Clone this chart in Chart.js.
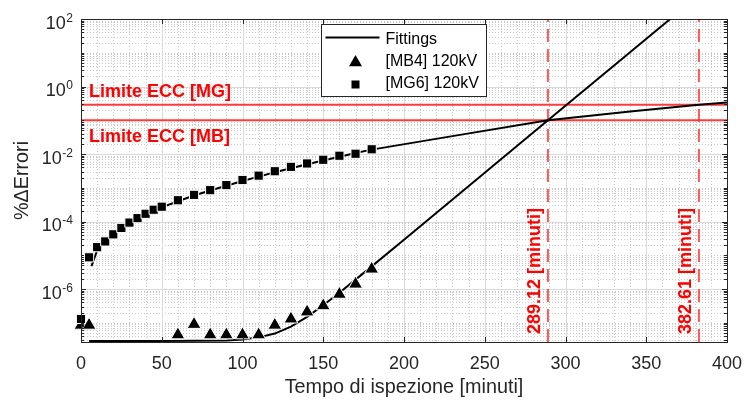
<!DOCTYPE html>
<html>
<head>
<meta charset="utf-8">
<script src="https://cdn.jsdelivr.net/npm/chart.js@4.4.1/dist/chart.umd.min.js"></script>
<style>
  html, body { margin: 0; padding: 0; background: #ffffff; }
  #wrap { width: 745px; height: 401px; }
</style>
</head>
<body>
<div id="wrap"><canvas id="c" width="745" height="401"></canvas></div>
<script>
// Measured error growth over inspection time (minutes), two samples at 120 kV
const timeMB4 = [0, 5, 60, 70, 80, 90, 100, 110, 120, 130, 140, 150, 160, 170, 180];
const errMB4  = [8.5e-8, 8.5e-8, 4.4e-8, 9.0e-8, 4.4e-8, 4.4e-8, 4.4e-8, 4.4e-8, 8.5e-8, 1.3e-7, 2.1e-7, 3.2e-7, 7.0e-7, 1.4e-6, 3.9e-6];

const timeMG6 = [0, 5, 10, 15, 20, 25, 30, 35, 40, 45, 50, 60, 70, 80, 90, 100, 110, 120, 130, 140, 150, 160, 170, 180];
const errMG6  = [1.3e-7, 8.7e-6, 1.74e-5, 2.57e-5, 4.17e-5, 6.46e-5, 9.3e-5, 1.26e-4, 1.70e-4, 2.24e-4, 2.75e-4, 4.27e-4, 6.17e-4, 8.5e-4, 1.20e-3, 1.70e-3, 2.29e-3, 3.09e-3, 4.17e-3, 5.25e-3, 6.76e-3, 8.9e-3, 1.02e-2, 1.38e-2];

// Fitted curves
const fitTimeMB4 = [5, 50, 90, 100, 110, 120, 130, 140, 150, 160, 170, 180, 200, 250, 289.12, 370];
const fitErrMB4  = [2.9e-8, 2.9e-8, 3.0e-8, 3.2e-8, 3.7e-8, 4.8e-8, 7.7e-8, 1.5e-7, 3.3e-7, 7.8e-7, 1.9e-6, 4.7e-6, 2.9e-5, 2.8e-3, 0.1, 160];

const fitTimeMG6 = [6.5, 10, 15, 20, 25, 30, 40, 50, 60, 70, 80, 90, 100, 110, 120, 130, 140, 150, 160, 170, 180, 230, 289.12, 340, 382.61, 400];
const fitErrMG6  = [4.8e-6, 1.41e-5, 2.82e-5, 4.37e-5, 6.46e-5, 8.9e-5, 1.62e-4, 2.63e-4, 3.98e-4, 5.89e-4, 8.3e-4, 1.15e-3, 1.58e-3, 2.14e-3, 2.88e-3, 3.8e-3, 5.0e-3, 6.46e-3, 8.3e-3, 1.07e-2, 1.35e-2, 3.39e-2, 0.1, 0.182, 0.288, 0.335];

// ECC limits and the times at which the fits reach them
const limitNames  = ['Limite ECC [MG]', 'Limite ECC [MB]'];
const limitValues = [0.29, 0.1];
const crossTimes  = [289.12, 382.61];

// Axis ranges and labelled ticks
const xRange = [0, 400];
const xStep = 50;
const yRange = [2.7e-8, 100];
const yLabelExps = [2, 0, -2, -4, -6];

const FONT = '"Liberation Sans", Arial, Helvetica, sans-serif';
const AXIS_COLOR = '#262626';
const LIMIT_RED = '#ff3c3c';
const TEXT_RED = '#ff0000';

const pts = (xs, ys) => xs.map((v, i) => ({ x: v, y: ys[i] }));

const datasets = [
  { label: '[MG6] 120kV', data: pts(timeMG6, errMG6), showLine: false,
    pointStyle: 'rect', pointRadius: 6.5, pointHoverRadius: 6.5,
    backgroundColor: '#000', borderColor: '#fff', borderWidth: 1, order: 0, clip: false },
  { label: '[MB4] 120kV', data: pts(timeMB4, errMB4), showLine: false,
    pointStyle: 'triangle', pointRadius: 8, pointHoverRadius: 8,
    backgroundColor: '#000', borderColor: '#fff', borderWidth: 1, order: 1, clip: false },
  { label: 'Fittings', data: pts(fitTimeMB4, fitErrMB4), showLine: true, pointRadius: 0,
    borderColor: '#000', borderWidth: 2, tension: 0, order: 2, clip: 0 },
  { label: 'Fittings MG6', data: pts(fitTimeMG6, fitErrMG6), showLine: true, pointRadius: 0,
    borderColor: '#000', borderWidth: 2, tension: 0, order: 3, clip: 0 }
];

limitValues.forEach((v, i) => {
  datasets.push({ label: limitNames[i], data: pts(xRange, [v, v]), showLine: true, pointRadius: 0,
    borderColor: LIMIT_RED, borderWidth: 2, order: 4, clip: 0 });
});
crossTimes.forEach((t) => {
  datasets.push({ label: t.toFixed(2), data: pts([t, t], yRange), showLine: true, pointRadius: 0,
    borderColor: 'rgba(255,70,70,0.9)', borderWidth: 2, borderDash: [13, 7], order: 5, clip: 0 });
});

// Grid, frame, tick labels, annotations and legend
const decor = {
  id: 'decor',
  beforeDatasetsDraw(chart) {
    const { ctx, chartArea: a, scales: { x, y } } = chart;
    ctx.save();
    ctx.lineWidth = 1;
    // minor grid (dotted)
    ctx.strokeStyle = '#c8c8c8';
    ctx.setLineDash([1, 2]);
    ctx.beginPath();
    for (let v = xRange[0] + 10; v < xRange[1]; v += 10) {
      if (v % xStep === 0) continue;
      const px = Math.round(x.getPixelForValue(v)) + 0.5;
      ctx.moveTo(px, a.top); ctx.lineTo(px, a.bottom);
    }
    for (let e = -8; e <= 2; e++) {
      for (let m = 1; m <= 9; m++) {
        const v = m * Math.pow(10, e);
        if (v <= yRange[0] || v >= yRange[1]) continue;
        if (m === 1 && e % 2 === 0) continue;
        const py = Math.round(y.getPixelForValue(v)) + 0.5;
        ctx.moveTo(a.left, py); ctx.lineTo(a.right, py);
      }
    }
    ctx.stroke();
    // major grid
    ctx.setLineDash([]);
    ctx.strokeStyle = '#dadada';
    ctx.beginPath();
    for (let v = xRange[0] + xStep; v < xRange[1]; v += xStep) {
      const px = Math.round(x.getPixelForValue(v)) + 0.5;
      ctx.moveTo(px, a.top); ctx.lineTo(px, a.bottom);
    }
    yLabelExps.forEach((e) => {
      const py = Math.round(y.getPixelForValue(Math.pow(10, e))) + 0.5;
      if (py > a.top + 1 && py < a.bottom - 1) { ctx.moveTo(a.left, py); ctx.lineTo(a.right, py); }
    });
    ctx.stroke();
    ctx.restore();
  },
  afterDatasetsDraw(chart) {
    const { ctx, chartArea: a, scales: { x, y } } = chart;
    ctx.save();
    // annotations for the limit lines
    ctx.fillStyle = TEXT_RED;
    ctx.font = 'bold 18px ' + FONT;
    ctx.textAlign = 'left';
    ctx.textBaseline = 'middle';
    const tx = x.getPixelForValue(5);
    ctx.fillText(limitNames[0], tx, y.getPixelForValue(limitValues[0]) - 13);
    ctx.fillText(limitNames[1], tx, y.getPixelForValue(limitValues[1]) + 17);
    // crossing time labels, written upwards beside the dashed lines
    crossTimes.forEach((t) => {
      ctx.save();
      ctx.translate(x.getPixelForValue(t) - 13, a.bottom - 71);
      ctx.rotate(-Math.PI / 2);
      ctx.textAlign = 'center';
      ctx.textBaseline = 'middle';
      ctx.fillText(t.toFixed(2) + ' [minuti]', 0, 0);
      ctx.restore();
    });
    // frame
    ctx.strokeStyle = AXIS_COLOR;
    ctx.lineWidth = 1;
    ctx.strokeRect(Math.round(a.left) + 0.5, Math.round(a.top) + 0.5,
                   Math.round(a.right - a.left), Math.round(a.bottom - a.top));
    // ticks, pointing inwards
    ctx.beginPath();
    for (let v = xRange[0]; v <= xRange[1]; v += xStep) {
      const px = Math.round(x.getPixelForValue(v)) + 0.5;
      ctx.moveTo(px, a.bottom); ctx.lineTo(px, a.bottom - 5);
      ctx.moveTo(px, a.top); ctx.lineTo(px, a.top + 5);
    }
    for (let e = -8; e <= 2; e++) {
      for (let m = 1; m <= 9; m++) {
        const v = m * Math.pow(10, e);
        if (v < yRange[0] || v > yRange[1]) continue;
        const len = (m === 1 && e % 2 === 0) ? 5 : 3;
        const py = Math.round(y.getPixelForValue(v)) + 0.5;
        ctx.moveTo(a.left, py); ctx.lineTo(a.left + len, py);
        ctx.moveTo(a.right, py); ctx.lineTo(a.right - len, py);
      }
    }
    ctx.stroke();
    ctx.restore();
  },
  afterDraw(chart) {
    const { ctx, chartArea: a, scales: { y } } = chart;
    ctx.save();
    // y tick labels with superscript exponents
    ctx.fillStyle = AXIS_COLOR;
    ctx.textBaseline = 'alphabetic';
    ctx.textAlign = 'right';
    const rightEdge = a.left - 8;
    yLabelExps.forEach((e) => {
      const py = y.getPixelForValue(Math.pow(10, e));
      const expTxt = e < 0 ? '-' + Math.abs(e) : String(e);
      ctx.font = '12px ' + FONT;
      const ew = ctx.measureText(expTxt).width;
      ctx.fillText(expTxt, rightEdge, py + 2.5);
      ctx.font = '18px ' + FONT;
      ctx.fillText('10', rightEdge - ew - 0.5, py + 9.5);
    });
    // legend
    const lx = 321.5, ly = 24.5, lw = 165, lh = 72;
    ctx.fillStyle = '#ffffff';
    ctx.fillRect(lx, ly, lw, lh);
    ctx.strokeStyle = AXIS_COLOR;
    ctx.lineWidth = 1;
    ctx.strokeRect(lx, ly, lw, lh);
    ctx.strokeStyle = '#000';
    ctx.lineWidth = 2;
    ctx.beginPath();
    ctx.moveTo(lx + 4, ly + 13); ctx.lineTo(lx + 58, ly + 13);
    ctx.stroke();
    ctx.fillStyle = '#000';
    // triangle marker
    const trx = lx + 34, tr_y = ly + 38, r = 7.5;
    ctx.beginPath();
    ctx.moveTo(trx, tr_y - r);
    ctx.lineTo(trx + r * Math.sin(2 * Math.PI / 3), tr_y - r * Math.cos(2 * Math.PI / 3));
    ctx.lineTo(trx + r * Math.sin(4 * Math.PI / 3), tr_y - r * Math.cos(4 * Math.PI / 3));
    ctx.closePath();
    ctx.fill();
    // square marker
    ctx.fillRect(lx + 30, ly + 56, 8, 8);
    ctx.font = '16px ' + FONT;
    ctx.textAlign = 'left';
    ctx.textBaseline = 'middle';
    ctx.fillText('Fittings', lx + 64, ly + 15);
    ctx.fillText('[MB4] 120kV', lx + 64, ly + 37.5);
    ctx.fillText('[MG6] 120kV', lx + 64, ly + 59.5);
    ctx.restore();
  }
};

Chart.defaults.font.family = FONT;

new Chart(document.getElementById('c'), {
  type: 'scatter',
  data: { datasets },
  options: {
    responsive: false,
    animation: false,
    events: [],
    layout: { padding: { left: 0, top: 19, right: 18, bottom: 0 } },
    plugins: { legend: { display: false }, tooltip: { enabled: false } },
    scales: {
      x: {
        type: 'linear', min: xRange[0], max: xRange[1],
        grid: { display: false, drawTicks: false },
        border: { display: false },
        ticks: { stepSize: xStep, maxRotation: 0, autoSkip: false, padding: 11,
                 color: AXIS_COLOR, font: { size: 18 } },
        title: { display: true, text: 'Tempo di ispezione [minuti]', color: AXIS_COLOR,
                 font: { size: 19.8 }, padding: { top: 0, bottom: 2 } },
        afterFit(scale) {
          scale.height = 59;
          scale.paddingLeft = 0;
          scale.paddingRight = 0;
        }
      },
      y: {
        type: 'logarithmic', min: yRange[0], max: yRange[1],
        grid: { display: false, drawTicks: false },
        border: { display: false },
        ticks: { display: false },
        title: { display: true, text: '%ΔErrori', color: AXIS_COLOR,
                 font: { size: 19.8 }, padding: { top: 11, bottom: 0 } },
        afterFit(scale) { scale.width = 81; }
      }
    }
  },
  plugins: [decor]
});
</script>
</body>
</html>
